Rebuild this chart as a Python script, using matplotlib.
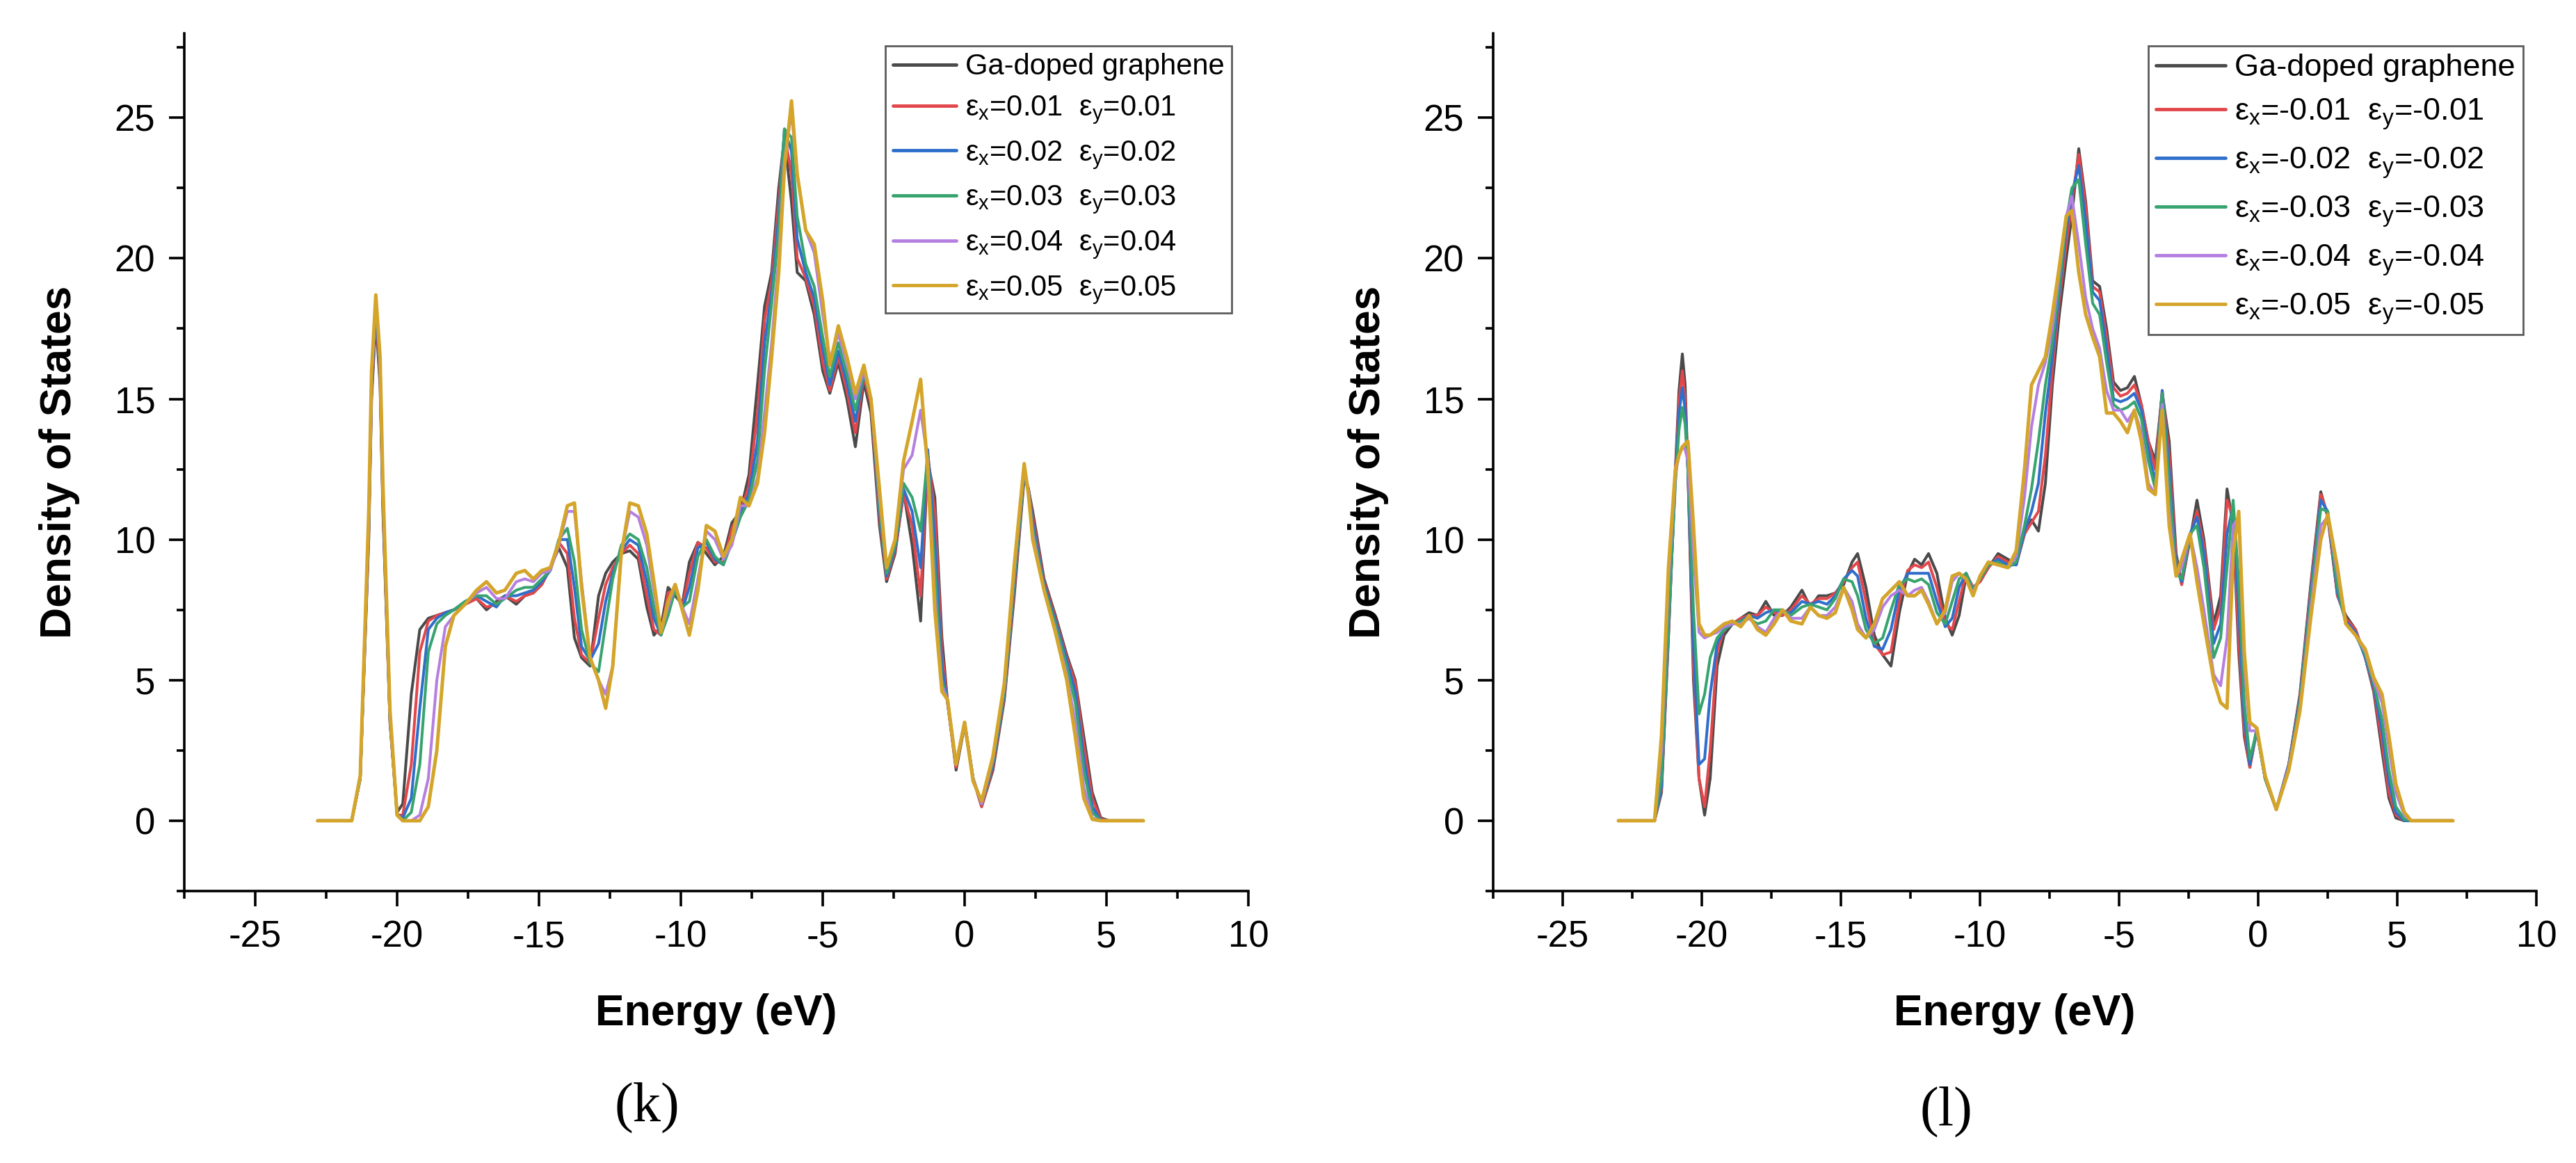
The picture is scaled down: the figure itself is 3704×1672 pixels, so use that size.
import matplotlib
matplotlib.use("Agg")
import matplotlib.pyplot as plt
from matplotlib.ticker import MultipleLocator

plt.rcParams['font.family'] = ['Liberation Sans', 'DejaVu Sans']
plt.rcParams['mathtext.default'] = 'regular'
plt.rcParams['axes.unicode_minus'] = False

# ---------------- panel (k): tensile strain ----------------
energy_k = [-22.8, -21.6, -21.3, -21.0, -20.9, -20.75, -20.6, -20.5, -20.25, -20.0,
            -19.8, -19.5, -19.2, -18.9, -18.6, -18.3, -18.0, -17.6, -17.2, -16.85,
            -16.5, -16.2, -15.8, -15.5, -15.2, -14.9, -14.6, -14.3, -14.0, -13.75,
            -13.5, -13.2, -12.9, -12.65, -12.4, -12.1, -11.8, -11.5, -11.2, -10.95,
            -10.7, -10.45, -10.2, -9.95, -9.7, -9.4, -9.1, -8.8, -8.5, -8.2,
            -7.9, -7.6, -7.3, -7.05, -6.8, -6.55, -6.35, -6.1, -5.9, -5.6,
            -5.3, -5.0, -4.75, -4.45, -4.15, -3.85, -3.55, -3.3, -3.0, -2.75,
            -2.45, -2.15, -1.85, -1.55, -1.3, -1.05, -0.8, -0.6, -0.3, 0.0,
            0.3, 0.6, 1.0, 1.4, 1.75, 2.1, 2.25, 2.4, 2.8, 3.2,
            3.6, 3.9, 4.2, 4.5, 4.8, 5.1, 6.3]

dos_k_pristine = [0, 0, 1.5, 10.0, 15.0, 17.8, 15.5, 11.0, 3.5, 0.3,
                  0.6, 4.5, 6.8, 7.2, 7.3, 7.4, 7.5, 7.7, 7.9, 7.5,
                  7.8, 8.0, 7.7, 8.0, 8.1, 8.4, 9.0, 9.7, 9.0, 6.5,
                  5.8, 5.5, 8.0, 8.8, 9.2, 9.5, 9.6, 9.3, 7.6, 6.6,
                  6.9, 8.3, 8.0, 7.7, 9.2, 9.9, 9.5, 9.1, 9.4, 10.6,
                  11.0, 12.3, 15.5, 18.3, 19.5, 22.5, 24.3, 22.0, 19.5, 19.2,
                  18.0, 16.0, 15.2, 16.3, 15.0, 13.3, 15.6, 14.5, 10.5, 8.5,
                  9.5, 11.7, 9.8, 7.1, 12.8, 11.5, 6.5, 4.2, 1.8, 3.4,
                  1.5, 0.5, 1.8, 4.3, 8.0, 12.2, 11.8, 11.0, 8.6, 7.3,
                  5.9, 5.0, 3.0, 1.0, 0.1, 0, 0]
dos_k_001 = [0, 0, 1.5, 10.2, 15.2, 18.0, 15.7, 11.2, 3.5, 0.2,
             0.2, 2.0, 6.0, 7.1, 7.3, 7.4, 7.5, 7.7, 7.9, 7.6,
             7.7, 8.0, 7.8, 8.0, 8.1, 8.4, 9.0, 9.9, 9.5, 7.2,
             5.9, 5.6, 7.2, 8.4, 9.0, 9.5, 9.8, 9.5, 8.0, 6.8,
             6.6, 8.1, 8.2, 7.6, 8.8, 9.9, 9.7, 9.2, 9.2, 10.4,
             11.0, 11.9, 14.5, 17.8, 19.2, 22.0, 24.4, 23.0, 20.0, 19.3,
             18.3, 16.3, 15.3, 16.5, 15.3, 13.8, 15.8, 14.8, 10.8, 8.6,
             9.6, 11.6, 10.5, 8.0, 13.0, 11.0, 6.0, 4.2, 1.9, 3.5,
             1.5, 0.5, 1.9, 4.4, 8.2, 12.3, 11.8, 10.8, 8.5, 7.2,
             5.8, 4.9, 2.7, 0.8, 0.05, 0, 0]
dos_k_002 = [0, 0, 1.5, 10.4, 15.4, 18.2, 15.9, 11.4, 3.6, 0.2,
             0.1, 0.8, 4.0, 6.8, 7.2, 7.4, 7.5, 7.8, 8.0, 7.8,
             7.6, 8.0, 8.0, 8.1, 8.2, 8.5, 8.9, 10.0, 10.0, 8.3,
             6.2, 5.7, 6.3, 7.8, 8.8, 9.6, 10.0, 9.8, 8.5, 7.2,
             6.6, 7.7, 8.3, 7.5, 8.3, 9.7, 9.9, 9.3, 9.1, 10.1,
             11.0, 11.6, 13.5, 17.0, 18.8, 21.5, 24.6, 23.8, 20.7, 19.5,
             18.6, 16.8, 15.5, 16.7, 15.6, 14.2, 15.9, 15.0, 11.0, 8.7,
             9.7, 11.8, 11.0, 9.0, 13.2, 10.0, 5.5, 4.2, 2.0, 3.5,
             1.5, 0.6, 2.0, 4.5, 8.4, 12.4, 11.8, 10.6, 8.4, 7.1,
             5.7, 4.6, 2.2, 0.5, 0, 0, 0]
dos_k_003 = [0, 0, 1.5, 10.6, 15.6, 18.4, 16.1, 11.6, 3.7, 0.2,
             0, 0.3, 2.0, 6.0, 7.0, 7.3, 7.5, 7.8, 8.0, 8.0,
             7.7, 7.9, 8.2, 8.3, 8.3, 8.6, 8.9, 10.0, 10.4, 9.2,
             6.8, 5.6, 5.3, 7.0, 8.6, 9.8, 10.2, 10.0, 9.0, 7.6,
             6.6, 7.3, 8.2, 7.6, 7.8, 9.4, 10.0, 9.4, 9.1, 9.9,
             10.8, 11.4, 12.8, 16.0, 18.4, 21.0, 24.6, 24.3, 21.5, 19.8,
             19.0, 17.2, 15.8, 17.0, 15.9, 14.6, 15.9, 15.0, 11.2, 8.8,
             9.8, 12.0, 11.5, 10.3, 13.0, 9.0, 5.0, 4.3, 2.0, 3.5,
             1.5, 0.6, 2.1, 4.6, 8.6, 12.4, 11.7, 10.4, 8.3, 7.0,
             5.5, 4.2, 1.8, 0.3, 0, 0, 0]
dos_k_004 = [0, 0, 1.6, 10.8, 15.8, 18.5, 16.3, 11.8, 3.8, 0.2,
             0, 0, 0.2, 1.5, 5.0, 6.9, 7.3, 7.7, 8.1, 8.3,
             7.9, 7.9, 8.5, 8.6, 8.5, 8.8, 8.9, 9.8, 11.0, 11.0,
             8.5, 5.8, 5.0, 4.5, 5.5, 9.5, 11.0, 10.8, 9.8, 8.2,
             6.7, 7.6, 8.4, 7.6, 7.0, 8.6, 10.3, 10.0, 9.3, 9.8,
             11.2, 11.2, 12.2, 14.5, 17.0, 20.0, 23.5, 25.2, 23.0, 21.0,
             20.2, 18.0, 16.4, 17.3, 16.3, 15.0, 16.0, 15.0, 11.5, 9.0,
             10.0, 12.5, 13.0, 14.6, 12.8, 8.0, 4.8, 4.3, 2.0, 3.5,
             1.5, 0.6, 2.2, 4.8, 8.9, 12.6, 11.7, 10.2, 8.2, 6.8,
             5.2, 3.5, 1.2, 0.1, 0, 0, 0]
dos_k_005 = [0, 0, 1.6, 11.0, 16.0, 18.7, 16.5, 12.0, 3.9, 0.2,
             0, 0, 0, 0.5, 2.5, 6.2, 7.3, 7.7, 8.2, 8.5,
             8.1, 8.2, 8.8, 8.9, 8.6, 8.9, 9.0, 9.9, 11.2, 11.3,
             8.3, 5.8, 5.0, 4.0, 5.5, 9.5, 11.3, 11.2, 10.2, 8.5,
             6.7, 7.8, 8.4, 7.5, 6.6, 8.2, 10.5, 10.3, 9.4, 10.0,
             11.5, 11.2, 12.0, 13.8, 16.5, 19.5, 23.2, 25.6, 23.0, 21.0,
             20.5, 18.5, 16.2, 17.6, 16.5, 15.2, 16.2, 15.0, 11.8, 9.0,
             10.0, 12.8, 14.2, 15.7, 12.5, 7.5, 4.6, 4.3, 2.0, 3.5,
             1.4, 0.7, 2.3, 4.9, 9.1, 12.7, 11.6, 10.0, 8.2, 6.7,
             5.0, 3.0, 0.8, 0.05, 0, 0, 0]

# ---------------- panel (l): compressive strain ----------------
energy_l = [-23.0, -21.7, -21.45, -21.2, -20.95, -20.82, -20.7, -20.6, -20.5, -20.3,
            -20.1, -19.9, -19.7, -19.45, -19.2, -18.9, -18.6, -18.3, -18.0, -17.7,
            -17.4, -17.1, -16.8, -16.4, -16.1, -15.8, -15.5, -15.2, -14.9, -14.6,
            -14.4, -14.1, -13.8, -13.5, -13.2, -12.9, -12.6, -12.35, -12.1, -11.85,
            -11.55, -11.25, -11.0, -10.75, -10.5, -10.25, -10.0, -9.7, -9.35, -9.0,
            -8.7, -8.4, -8.15, -7.9, -7.65, -7.4, -7.15, -6.9, -6.7, -6.45,
            -6.2, -5.95, -5.7, -5.45, -5.2, -4.95, -4.7, -4.45, -4.2, -3.95,
            -3.7, -3.45, -3.2, -2.95, -2.75, -2.45, -2.2, -1.95, -1.6, -1.35,
            -1.12, -0.9, -0.7, -0.5, -0.3, -0.05, 0.25, 0.65, 1.1, 1.5,
            1.9, 2.25, 2.5, 2.85, 3.15, 3.5, 3.85, 4.15, 4.45, 4.7,
            4.95, 5.25, 5.5, 7.0]

dos_l_pristine = [0, 0, 1.0, 6.5, 12.5, 15.3, 16.6, 15.5, 12.5, 5.0,
                  1.5, 0.2, 1.5, 5.5, 6.6, 7.0, 7.2, 7.4, 7.3, 7.8,
                  7.3, 7.3, 7.6, 8.2, 7.6, 8.0, 8.0, 8.1, 8.4, 9.2,
                  9.5, 8.3, 6.6, 5.9, 5.5, 7.4, 8.8, 9.3, 9.1, 9.5,
                  8.8, 7.2, 6.6, 7.3, 8.7, 8.3, 8.5, 9.0, 9.5, 9.3,
                  9.1, 10.2, 10.7, 10.3, 12.0, 15.5, 18.0, 20.0, 21.5, 23.9,
                  22.0, 19.2, 19.0, 17.5, 15.6, 15.3, 15.4, 15.8, 14.8, 13.5,
                  12.8, 15.2, 13.5, 9.5, 8.4, 10.0, 11.4, 10.0, 7.0, 8.0,
                  11.8, 10.5, 6.0, 3.0, 1.9, 3.3, 1.5, 0.4, 2.0, 4.5,
                  8.5, 11.7, 10.8, 8.0, 7.3, 6.8, 5.8, 4.6, 2.5, 0.8,
                  0.1, 0, 0, 0]
dos_l_001 = [0, 0, 1.1, 6.6, 12.4, 14.9, 16.0, 15.0, 12.5, 5.5,
             1.5, 0.5, 2.5, 6.0, 6.8, 7.0, 7.2, 7.3, 7.3, 7.6,
             7.4, 7.3, 7.5, 8.0, 7.7, 7.9, 7.9, 8.1, 8.5, 9.0,
             9.2, 7.8, 6.3, 5.9, 6.0, 7.8, 8.9, 9.1, 9.0, 9.2,
             8.3, 7.0, 6.8, 7.8, 8.8, 8.3, 8.5, 9.0, 9.4, 9.2,
             9.1, 10.2, 10.6, 11.0, 13.0, 16.0, 18.5, 20.5, 22.0, 23.7,
             21.8, 19.0, 18.8, 17.2, 15.4, 15.1, 15.2, 15.5, 14.8, 13.5,
             12.5, 15.3, 13.0, 9.3, 8.4, 10.1, 11.0, 9.8, 6.8, 7.6,
             11.4, 10.8, 6.5, 3.2, 1.9, 3.2, 1.5, 0.4, 2.0, 4.4,
             8.4, 11.6, 10.9, 8.0, 7.2, 6.8, 5.8, 4.7, 2.8, 1.0,
             0.2, 0, 0, 0]
dos_l_002 = [0, 0, 1.2, 6.8, 12.2, 14.5, 15.4, 14.6, 12.5, 6.2,
             2.0, 2.2, 4.5, 6.3, 6.8, 7.0, 7.1, 7.3, 7.2, 7.4,
             7.5, 7.4, 7.4, 7.8, 7.7, 7.8, 7.7, 8.0, 8.6, 8.9,
             8.7, 7.2, 6.2, 6.1, 6.8, 8.2, 8.8, 8.8, 8.8, 8.8,
             7.8, 6.9, 7.2, 8.3, 8.8, 8.2, 8.6, 9.1, 9.3, 9.1,
             9.1, 10.3, 11.0, 12.0, 14.5, 16.5, 18.8, 21.0, 22.3, 23.3,
             21.3, 18.8, 18.5, 16.8, 15.0, 14.9, 15.0, 15.2, 14.6, 13.2,
             12.0, 15.3, 12.5, 9.0, 8.5, 10.2, 10.8, 9.5, 6.3, 7.0,
             10.2, 11.2, 7.5, 3.6, 2.0, 3.2, 1.5, 0.4, 2.0, 4.3,
             8.2, 11.4, 11.0, 8.1, 7.1, 6.7, 5.8, 4.8, 3.2, 1.4,
             0.3, 0, 0, 0]
dos_l_003 = [0, 0, 1.5, 7.0, 12.0, 13.9, 14.7, 14.1, 12.5, 7.5,
             3.8, 4.5, 5.8, 6.5, 6.8, 7.0, 7.1, 7.2, 7.0, 7.1,
             7.5, 7.5, 7.3, 7.6, 7.7, 7.6, 7.5, 7.9, 8.6, 8.5,
             8.0, 6.8, 6.3, 6.5, 7.5, 8.4, 8.6, 8.5, 8.6, 8.4,
             7.4, 7.0, 7.8, 8.6, 8.8, 8.2, 8.6, 9.1, 9.2, 9.0,
             9.2, 10.5, 11.8, 13.5, 15.5, 17.0, 19.0, 21.3, 22.5, 22.8,
             20.5, 18.4, 18.0, 16.3, 14.8, 14.6, 14.7, 14.9, 14.3, 12.8,
             11.8, 15.2, 12.0, 8.8, 8.6, 10.2, 10.5, 9.0, 5.8, 6.5,
             9.0, 11.4, 8.5, 4.2, 2.2, 3.2, 1.5, 0.4, 1.9, 4.2,
             8.0, 11.1, 11.0, 8.3, 7.0, 6.6, 5.9, 4.9, 3.6, 1.8,
             0.5, 0.05, 0, 0]
dos_l_004 = [0, 0, 2.5, 8.5, 12.3, 13.0, 13.3, 13.2, 12.8, 9.5,
             6.7, 6.5, 6.6, 6.7, 6.9, 7.0, 7.0, 7.2, 6.9, 6.7,
             7.2, 7.5, 7.2, 7.2, 7.6, 7.3, 7.3, 7.6, 8.3, 7.8,
             7.0, 6.5, 6.8, 7.6, 8.0, 8.2, 8.0, 8.2, 8.3, 7.8,
             7.0, 7.4, 8.5, 8.8, 8.6, 8.1, 8.7, 9.2, 9.1, 9.0,
             9.4, 11.5, 14.0, 15.5, 16.3, 17.5, 19.5, 21.5, 22.2, 20.5,
             18.6, 17.5, 16.8, 15.3, 14.6, 14.6, 14.2, 14.6, 13.8, 12.0,
             11.6, 14.8, 11.0, 8.7, 9.0, 10.2, 9.0, 7.5, 5.2, 4.8,
             6.5, 10.5, 10.8, 5.5, 3.2, 3.2, 1.6, 0.4, 1.9, 4.0,
             7.6, 10.5, 10.8, 8.8, 7.0, 6.6, 6.0, 5.0, 4.2, 2.6,
             1.0, 0.2, 0, 0]
dos_l_005 = [0, 0, 3.0, 9.0, 12.5, 13.0, 13.3, 13.4, 13.5, 10.5,
             7.0, 6.6, 6.6, 6.8, 7.0, 7.1, 6.9, 7.3, 6.8, 6.6,
             7.0, 7.5, 7.1, 7.0, 7.6, 7.3, 7.2, 7.4, 8.3, 7.5,
             6.8, 6.5, 7.0, 7.9, 8.2, 8.5, 8.0, 8.0, 8.2, 7.7,
             7.0, 7.5, 8.7, 8.8, 8.6, 8.0, 8.7, 9.2, 9.1, 9.0,
             9.6, 12.5, 15.5, 16.0, 16.5, 18.0, 19.7, 21.5, 21.7, 19.5,
             18.0, 17.2, 16.5, 14.5, 14.5, 14.2, 13.8, 14.6, 13.5, 11.8,
             11.6, 14.6, 10.5, 8.7, 9.3, 10.2, 8.5, 7.0, 5.0, 4.2,
             4.0, 9.5, 11.0, 6.0, 3.5, 3.3, 1.6, 0.4, 1.8, 3.9,
             7.3, 10.0, 10.9, 9.0, 7.0, 6.6, 6.1, 5.1, 4.5, 3.0,
             1.3, 0.3, 0, 0]

labels_k = ['Ga-doped graphene',
            'ε$_x$=0.01  ε$_y$=0.01',
            'ε$_x$=0.02  ε$_y$=0.02',
            'ε$_x$=0.03  ε$_y$=0.03',
            'ε$_x$=0.04  ε$_y$=0.04',
            'ε$_x$=0.05  ε$_y$=0.05']
labels_l = ['Ga-doped graphene',
            'ε$_x$=-0.01  ε$_y$=-0.01',
            'ε$_x$=-0.02  ε$_y$=-0.02',
            'ε$_x$=-0.03  ε$_y$=-0.03',
            'ε$_x$=-0.04  ε$_y$=-0.04',
            'ε$_x$=-0.05  ε$_y$=-0.05']

colors = ['#4a4a4a', '#e2474b', '#2f6fcb', '#37a46f', '#b57fe0', '#d4a52a']
widths = [2.9, 2.9, 2.9, 2.9, 2.9, 3.6]

fig = plt.figure(figsize=(37.04, 16.72), dpi=100)
ax_k = fig.add_axes([0.07154, 0.23385, 0.41307, 0.73744])
ax_l = fig.add_axes([0.57965, 0.23385, 0.40497, 0.73744])


def style_axes(ax):
    ax.set_xlim(-27.5, 10)
    ax.set_ylim(-2.5, 28)
    ax.xaxis.set_major_locator(MultipleLocator(5))
    ax.xaxis.set_minor_locator(MultipleLocator(2.5))
    ax.yaxis.set_major_locator(MultipleLocator(5))
    ax.yaxis.set_minor_locator(MultipleLocator(2.5))
    for side in ['top', 'right']:
        ax.spines[side].set_visible(False)
    for side in ['left', 'bottom']:
        ax.spines[side].set_linewidth(2.6)
    ax.tick_params(which='major', direction='out', length=16, width=2.6,
                   labelsize=38, pad=14)
    ax.tick_params(which='minor', direction='out', length=8, width=2.6)
    ax.set_xlabel('Energy (eV)', fontsize=45, fontweight='bold', labelpad=40)
    ax.set_ylabel('Density of States', fontsize=45, fontweight='bold', labelpad=36)


series_k = [dos_k_pristine, dos_k_001, dos_k_002, dos_k_003, dos_k_004, dos_k_005]
series_l = [dos_l_pristine, dos_l_001, dos_l_002, dos_l_003, dos_l_004, dos_l_005]

for ys, lab, c, w in zip(series_k, labels_k, colors, widths):
    ax_k.plot(energy_k, ys, color=c, lw=w, label=lab,
              solid_joinstyle='round', solid_capstyle='round')
for ys, lab, c, w in zip(series_l, labels_l, colors, widths):
    ax_l.plot(energy_l, ys, color=c, lw=w, label=lab,
              solid_joinstyle='round', solid_capstyle='round')

style_axes(ax_k)
style_axes(ax_l)

leg_kw = dict(loc='upper right', frameon=True, fancybox=False, handlelength=2.2,
              handletextpad=0.3, borderpad=0.25, labelspacing=0.45,
              borderaxespad=0)
leg_k = ax_k.legend(fontsize=30, bbox_to_anchor=(0.4781, 0.9605),
                    bbox_transform=fig.transFigure, **leg_kw)
leg_l = ax_l.legend(fontsize=32.5, bbox_to_anchor=(0.9795, 0.9605),
                    bbox_transform=fig.transFigure, **leg_kw)
for leg in (leg_k, leg_l):
    leg.get_frame().set_edgecolor('#333333')
    leg.get_frame().set_linewidth(2.0)
    for line in leg.get_lines():
        line.set_linewidth(3.5)

fig.text(0.2511, 0.0478, '(k)', fontsize=58, family='Liberation Serif',
         ha='center', va='center')
fig.text(0.7554, 0.0443, '(l)', fontsize=58, family='Liberation Serif',
         ha='center', va='center')

fig.savefig('out.png', dpi=100)
